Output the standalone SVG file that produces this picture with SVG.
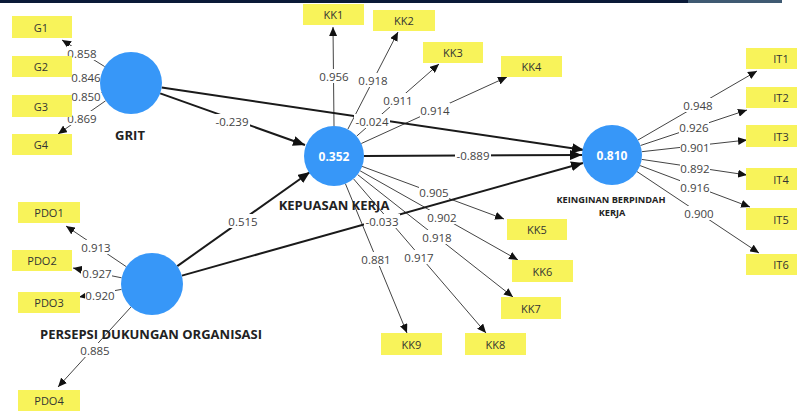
<svg xmlns="http://www.w3.org/2000/svg" width="797" height="415" viewBox="0 0 797 415">
<style>
.box{fill:#f8f35a;}
.bt{font-family:"Open Sans","Noto Sans",sans-serif;font-size:11px;fill:#333;text-anchor:middle;dominant-baseline:central;}
.ld{stroke:#444;stroke-width:1;fill:none;}
.st{stroke:#1a1a1a;stroke-width:2;fill:none;}
.lb{font-family:"Open Sans","Noto Sans",sans-serif;font-size:11.5px;fill:#444;text-anchor:middle;dominant-baseline:central;}
.lbg{fill:#fff;}
.cir{fill:#3797f8;}
.ct{font-family:"Open Sans","Noto Sans",sans-serif;font-size:12px;font-weight:bold;fill:#fff;text-anchor:middle;dominant-baseline:central;}
.nm{font-family:"Open Sans","Noto Sans",sans-serif;font-size:13px;font-weight:bold;fill:#222;text-anchor:middle;dominant-baseline:central;}
.nms{font-family:"Open Sans","Noto Sans",sans-serif;font-size:9.2px;font-weight:bold;fill:#222;text-anchor:middle;dominant-baseline:central;}
</style>
<defs>
<marker id="a1" markerUnits="userSpaceOnUse" markerWidth="9" markerHeight="8" refX="9" refY="4" orient="auto"><path d="M0,0 L9,4 L0,8 z" fill="#111"/></marker>
<marker id="a2" markerUnits="userSpaceOnUse" markerWidth="12" markerHeight="10" refX="12" refY="5" orient="auto"><path d="M0,0 L12,5 L0,10 z" fill="#111"/></marker>
</defs>
<rect x="0" y="0" width="688" height="3" fill="#0a1a38"/>
<rect x="688" y="0" width="94" height="3" fill="#3f5a72"/>

<g id="connectors">
<line class="ld" marker-end="url(#a1)" x1="104.7" y1="66.6" x2="62" y2="40"/>
<line class="ld" marker-end="url(#a1)" x1="101.1" y1="74.7" x2="73" y2="75"/>
<line class="ld" marker-end="url(#a1)" x1="101.5" y1="92.5" x2="73" y2="97"/>
<line class="ld" marker-end="url(#a1)" x1="105.6" y1="100.8" x2="58" y2="134"/>
<line class="ld" marker-end="url(#a1)" x1="126.3" y1="266.7" x2="66" y2="226"/>
<line class="ld" marker-end="url(#a1)" x1="121.6" y1="277.8" x2="73" y2="268"/>
<line class="ld" marker-end="url(#a1)" x1="121.5" y1="289.4" x2="79" y2="297"/>
<line class="ld" marker-end="url(#a1)" x1="131.1" y1="306.9" x2="58" y2="387"/>
<line class="ld" marker-end="url(#a1)" x1="334" y1="126" x2="333" y2="27"/>
<line class="ld" marker-end="url(#a1)" x1="347.8" y1="129.3" x2="398" y2="32"/>
<line class="ld" marker-end="url(#a1)" x1="356.6" y1="136.2" x2="439" y2="64"/>
<line class="ld" marker-end="url(#a1)" x1="361.3" y1="143.5" x2="507" y2="77"/>
<line class="ld" marker-end="url(#a1)" x1="362.1" y1="166.4" x2="504" y2="219"/>
<line class="ld" marker-end="url(#a1)" x1="360.1" y1="170.8" x2="518" y2="260"/>
<line class="ld" marker-end="url(#a1)" x1="357.6" y1="174.6" x2="513" y2="297"/>
<line class="ld" marker-end="url(#a1)" x1="353.5" y1="178.8" x2="486" y2="333"/>
<line class="ld" marker-end="url(#a1)" x1="345.4" y1="183.7" x2="407" y2="333"/>
<line class="ld" marker-end="url(#a1)" x1="638" y1="140" x2="757" y2="71"/>
<line class="ld" marker-end="url(#a1)" x1="640.5" y1="145.5" x2="747" y2="110"/>
<line class="ld" marker-end="url(#a1)" x1="641.8" y1="151.7" x2="747" y2="140"/>
<line class="ld" marker-end="url(#a1)" x1="641.7" y1="159.4" x2="747" y2="175"/>
<line class="ld" marker-end="url(#a1)" x1="640.1" y1="165.6" x2="750" y2="207"/>
<line class="ld" marker-end="url(#a1)" x1="637" y1="171.6" x2="759" y2="253"/>
<line class="st" marker-end="url(#a2)" x1="160.2" y1="93.4" x2="305" y2="145"/>
<line class="st" marker-end="url(#a2)" x1="161.7" y1="87.5" x2="584" y2="150"/>
<line class="st" marker-end="url(#a2)" x1="364" y1="156" x2="582" y2="155"/>
<line class="st" marker-end="url(#a2)" x1="177.3" y1="266.1" x2="310" y2="172"/>
<line class="st" marker-end="url(#a2)" x1="181.9" y1="275.6" x2="583" y2="163"/>
</g>

<g id="labels">
<rect class="lbg" x="67" y="46" width="30" height="14"/><text class="lb" x="82" y="53">0.858</text>
<rect class="lbg" x="71" y="70" width="30" height="14"/><text class="lb" x="86" y="77">0.846</text>
<rect class="lbg" x="71" y="89" width="30" height="14"/><text class="lb" x="86" y="96">0.850</text>
<rect class="lbg" x="67" y="111" width="30" height="14"/><text class="lb" x="82" y="118">0.869</text>
<rect class="lbg" x="81" y="240" width="30" height="14"/><text class="lb" x="96" y="247">0.913</text>
<rect class="lbg" x="82" y="266" width="30" height="14"/><text class="lb" x="97" y="273">0.927</text>
<rect class="lbg" x="85" y="288" width="30" height="14"/><text class="lb" x="100" y="295">0.920</text>
<rect class="lbg" x="80" y="343" width="30" height="14"/><text class="lb" x="95" y="350">0.885</text>
<rect class="lbg" x="319" y="69" width="30" height="14"/><text class="lb" x="334" y="76">0.956</text>
<rect class="lbg" x="358" y="73" width="30" height="14"/><text class="lb" x="373" y="80">0.918</text>
<rect class="lbg" x="383" y="93" width="30" height="14"/><text class="lb" x="398" y="100">0.911</text>
<rect class="lbg" x="420" y="103" width="30" height="14"/><text class="lb" x="435" y="110">0.914</text>
<rect class="lbg" x="419" y="185" width="30" height="14"/><text class="lb" x="434" y="192">0.905</text>
<rect class="lbg" x="427" y="210" width="30" height="14"/><text class="lb" x="442" y="217">0.902</text>
<rect class="lbg" x="422" y="230" width="30" height="14"/><text class="lb" x="437" y="237">0.918</text>
<rect class="lbg" x="404" y="250" width="30" height="14"/><text class="lb" x="419" y="257">0.917</text>
<rect class="lbg" x="361" y="252" width="30" height="14"/><text class="lb" x="376" y="259">0.881</text>
<rect class="lbg" x="683" y="98" width="30" height="14"/><text class="lb" x="698" y="105">0.948</text>
<rect class="lbg" x="679" y="120" width="30" height="14"/><text class="lb" x="694" y="127">0.926</text>
<rect class="lbg" x="680" y="140" width="30" height="14"/><text class="lb" x="695" y="147">0.901</text>
<rect class="lbg" x="680" y="161" width="30" height="14"/><text class="lb" x="695" y="168">0.892</text>
<rect class="lbg" x="680" y="180" width="30" height="14"/><text class="lb" x="695" y="187">0.916</text>
<rect class="lbg" x="684" y="206" width="30" height="14"/><text class="lb" x="699" y="213">0.900</text>
<rect class="lbg" x="214" y="114" width="36" height="14"/><text class="lb" x="232" y="121">-0.239</text>
<rect class="lbg" x="354" y="114" width="36" height="14"/><text class="lb" x="372" y="121">-0.024</text>
<rect class="lbg" x="455" y="148" width="36" height="14"/><text class="lb" x="473" y="155">-0.889</text>
<rect class="lbg" x="228" y="214" width="30" height="14"/><text class="lb" x="243" y="221">0.515</text>
<rect class="lbg" x="364" y="214" width="36" height="14"/><text class="lb" x="382" y="221">-0.033</text>
</g>

<g id="GRIT"><circle class="cir" cx="131" cy="83" r="31"/><text class="nm" x="130" y="135">GRIT</text></g>
<g id="PDO"><circle class="cir" cx="152" cy="284" r="31"/><text class="nm" x="151" y="334">PERSEPSI DUKUNGAN ORGANISASI</text></g>
<g id="KEPUASAN"><circle class="cir" cx="334" cy="156" r="30"/><text class="ct" x="334" y="156">0.352</text><text class="nm" x="334" y="205">KEPUASAN KERJA</text></g>
<g id="KEINGINAN"><circle class="cir" cx="612" cy="155" r="30"/><text class="ct" x="612" y="155">0.810</text><text class="nms" x="611" y="199">KEINGINAN BERPINDAH</text><text class="nms" x="612" y="212">KERJA</text></g>

<g id="G1"><rect class="box" x="12" y="16" width="60" height="22"/><text class="bt" x="41" y="27">G1</text></g>
<g id="G2"><rect class="box" x="12" y="56" width="60" height="21"/><text class="bt" x="41" y="66.5">G2</text></g>
<g id="G3"><rect class="box" x="12" y="95" width="60" height="22"/><text class="bt" x="41" y="106">G3</text></g>
<g id="G4"><rect class="box" x="12" y="134" width="60" height="21"/><text class="bt" x="41" y="144.5">G4</text></g>
<g id="PDO1"><rect class="box" x="18" y="202" width="62" height="21"/><text class="bt" x="49" y="212.5">PDO1</text></g>
<g id="PDO2"><rect class="box" x="12" y="250" width="60" height="21"/><text class="bt" x="42" y="260.5">PDO2</text></g>
<g id="PDO3"><rect class="box" x="18" y="292" width="62" height="21"/><text class="bt" x="49" y="302.5">PDO3</text></g>
<g id="PDO4"><rect class="box" x="18" y="390" width="62" height="21"/><text class="bt" x="49" y="400.5">PDO4</text></g>
<g id="KK1"><rect class="box" x="303" y="4" width="61" height="21"/><text class="bt" x="333.5" y="14.5">KK1</text></g>
<g id="KK2"><rect class="box" x="373" y="10" width="62" height="21"/><text class="bt" x="404" y="20.5">KK2</text></g>
<g id="KK3"><rect class="box" x="423" y="42" width="60" height="21"/><text class="bt" x="453" y="52.5">KK3</text></g>
<g id="KK4"><rect class="box" x="501" y="56" width="61" height="21"/><text class="bt" x="531.5" y="66.5">KK4</text></g>
<g id="KK5"><rect class="box" x="507" y="219" width="60" height="21"/><text class="bt" x="537" y="229.5">KK5</text></g>
<g id="KK6"><rect class="box" x="512" y="260" width="61" height="22"/><text class="bt" x="542.5" y="271">KK6</text></g>
<g id="KK7"><rect class="box" x="501" y="297" width="60" height="22"/><text class="bt" x="531" y="308">KK7</text></g>
<g id="KK8"><rect class="box" x="465" y="333" width="61" height="22"/><text class="bt" x="495.5" y="344">KK8</text></g>
<g id="KK9"><rect class="box" x="381" y="333" width="61" height="22"/><text class="bt" x="411.5" y="344">KK9</text></g>
<g id="IT1"><rect class="box" x="746" y="48" width="51" height="21"/><text class="bt" x="781" y="58.5">IT1</text></g>
<g id="IT2"><rect class="box" x="746" y="87" width="51" height="21"/><text class="bt" x="781" y="97.5">IT2</text></g>
<g id="IT3"><rect class="box" x="746" y="125" width="51" height="22"/><text class="bt" x="781" y="136">IT3</text></g>
<g id="IT4"><rect class="box" x="746" y="168" width="51" height="22"/><text class="bt" x="781" y="179">IT4</text></g>
<g id="IT5"><rect class="box" x="746" y="208" width="51" height="22"/><text class="bt" x="781" y="219">IT5</text></g>
<g id="IT6"><rect class="box" x="746" y="254" width="51" height="21"/><text class="bt" x="781" y="264.5">IT6</text></g>
</svg>
